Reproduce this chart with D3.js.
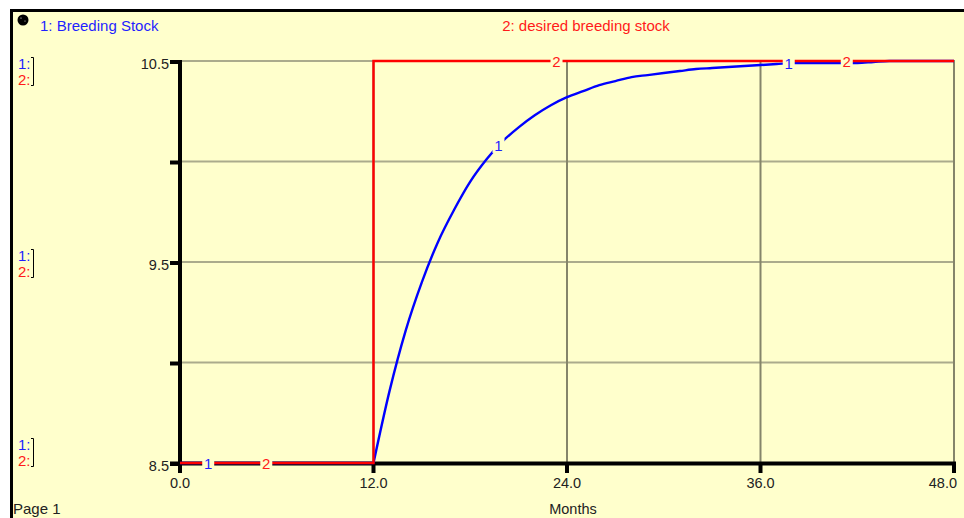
<!DOCTYPE html>
<html>
<head>
<meta charset="utf-8">
<script src="https://cdn.jsdelivr.net/npm/d3@7"></script>
<style>
  html, body { margin: 0; padding: 0; background: #ffffff; }
  svg { display: block; font-family: "Liberation Sans", Arial, sans-serif; }
</style>
</head>
<body>
<svg id="chart" width="964" height="518"></svg>
<script>
// ---- data ----
const months = [0,1,2,3,4,5,6,7,8,9,10,11,12,13,14,15,16,17,18,19,20,21,22,23,24,
  25,26,27,28,29,30,31,32,33,34,35,36,37,38,39,40,41,42,43,44,45,46,47,48];
const breedingStock = [8.5,8.5,8.5,8.5,8.5,8.5,8.5,8.5,8.5,8.5,8.5,8.5,8.5,
  8.86,9.16,9.40,9.60,9.76,9.90,10.01,10.10,10.17,10.23,10.28,10.32,
  10.35,10.38,10.40,10.42,10.43,10.44,10.45,10.46,10.465,10.47,10.475,10.48,
  10.485,10.49,10.49,10.49,10.49,10.49,10.495,10.5,10.5,10.5,10.5,10.5];
const desiredStock = [8.5,8.5,8.5,8.5,8.5,8.5,8.5,8.5,8.5,8.5,8.5,8.5,
  10.5,10.5,10.5,10.5,10.5,10.5,10.5,10.5,10.5,10.5,10.5,10.5,10.5,
  10.5,10.5,10.5,10.5,10.5,10.5,10.5,10.5,10.5,10.5,10.5,10.5,
  10.5,10.5,10.5,10.5,10.5,10.5,10.5,10.5,10.5,10.5,10.5,10.5];
const stepMonth = 12;
const xTicks = [0, 12, 24, 36, 48];
const xTickLabels = ["0.0", "12.0", "24.0", "36.0", "48.0"];
const yTicks = [8.5, 9.0, 9.5, 10.0, 10.5];
const yTickLabels = ["8.5", "", "9.5", "", "10.5"];
const seriesNames = ["1: Breeding Stock", "2: desired breeding stock"];
const labelTimes1 = [1.75, 19.75, 37.75];
const labelTimes2 = [5.35, 23.35, 41.35];
const xTitle = "Months";
const pageLabel = "Page 1";

// ---- setup ----
const BG = "#ffffcc";
const BLUE = "#0000ff";
const RED = "#ff0000";
const BLUE_T = "#1f1fff";
const RED_T = "#ff1a1a";
const svg = d3.select("#chart");

const x = d3.scaleLinear().domain([0, 48]).range([180, 954]);
const y = d3.scaleLinear().domain([8.5, 10.5]).range([463, 61]);

// frame
svg.append("rect").attr("x", 11.5).attr("y", 10.5).attr("width", 980).attr("height", 530)
  .attr("fill", BG).attr("stroke", "#000").attr("stroke-width", 3);

// gridlines
svg.append("g").selectAll("line").data(yTicks.filter(v => v > 8.5)).join("line")
  .attr("x1", x(0)).attr("x2", x(48)).attr("y1", d => y(d)).attr("y2", d => y(d))
  .attr("stroke", "#abab8c").attr("stroke-width", 2);
svg.append("g").selectAll("line").data(xTicks.filter(v => v > 0)).join("line")
  .attr("x1", d => x(d)).attr("x2", d => x(d)).attr("y1", y(10.5) - 1).attr("y2", y(8.5))
  .attr("stroke", "#85856a").attr("stroke-width", 2);

// axes (custom to mimic style)
const axes = svg.append("g");
axes.append("line").attr("x1", x(0)).attr("x2", x(0)).attr("y1", y(10.5) - 1).attr("y2", y(8.5) + 9)
  .attr("stroke", "#000").attr("stroke-width", 4);
axes.append("line").attr("x1", x(0) - 10).attr("x2", x(48) + 2).attr("y1", y(8.5) + 0.5).attr("y2", y(8.5) + 0.5)
  .attr("stroke", "#000").attr("stroke-width", 4);
axes.selectAll(".yt").data(yTicks).join("line")
  .attr("x1", x(0) - 10).attr("x2", x(0)).attr("y1", d => y(d) + 1).attr("y2", d => y(d) + 1)
  .attr("stroke", "#000").attr("stroke-width", 4);
axes.selectAll(".xt").data(xTicks).join("line")
  .attr("x1", d => x(d)).attr("x2", d => x(d)).attr("y1", y(8.5)).attr("y2", y(8.5) + 10)
  .attr("stroke", "#000").attr("stroke-width", 4);

// tick labels
svg.append("g").selectAll("text").data(yTicks).join("text")
  .attr("x", x(0) - 11).attr("y", d => y(d) + 7.5)
  .attr("text-anchor", "end").attr("font-size", 14.5).attr("fill", "#222")
  .text((d, i) => yTickLabels[i]);
svg.append("g").selectAll("text").data(xTicks).join("text")
  .attr("x", (d, i) => i === xTicks.length - 1 ? x(d) + 3 : x(d))
  .attr("y", 488)
  .attr("text-anchor", (d, i) => i === xTicks.length - 1 ? "end" : "middle")
  .attr("font-size", 14.5).attr("fill", "#222")
  .text((d, i) => xTickLabels[i]);

svg.append("text").attr("x", 573).attr("y", 514).attr("text-anchor", "middle")
  .attr("font-size", 14.5).attr("fill", "#222").text(xTitle);
svg.append("text").attr("x", 13).attr("y", 514)
  .attr("font-size", 15).attr("fill", "#222").text(pageLabel);

// series titles
const icon = svg.append("g").attr("transform", "translate(23,20)");
icon.append("circle").attr("r", 5.5).attr("fill", "#000");
icon.append("circle").attr("cx", -2).attr("cy", -2).attr("r", 0.6).attr("fill", "#fff");
icon.append("circle").attr("cx", 2).attr("cy", 1).attr("r", 0.5).attr("fill", "#fff");
svg.append("text").attr("x", 40).attr("y", 31).attr("font-size", 15).attr("fill", BLUE_T).text(seriesNames[0]);
svg.append("text").attr("x", 586).attr("y", 31).attr("text-anchor", "middle")
  .attr("font-size", 15).attr("fill", RED_T).text(seriesNames[1]);

// left scale indicators
[69, 261, 450].forEach(b => {
  const g = svg.append("g");
  g.append("text").attr("x", 18).attr("y", b).attr("font-size", 15).attr("fill", BLUE_T).text("1:");
  g.append("text").attr("x", 18).attr("y", b + 16).attr("font-size", 15).attr("fill", RED_T).text("2:");
  g.append("path").attr("d", `M31,${b - 11.5}H33.5V${b + 16.5}H31`)
    .attr("fill", "none").attr("stroke", "#000").attr("stroke-width", 1);
});

// series lines
const pts1 = months.map((m, i) => [m, breedingStock[i]]);
const pts2 = months.map((m, i) => [m, desiredStock[i]]);
const flat = pts1.filter(p => p[0] <= stepMonth);
const rise = pts1.filter(p => p[0] >= stepMonth);
const lineLin = d3.line().x(d => x(d[0])).y(d => y(d[1]));
const lineMono = d3.line().x(d => x(d[0])).y(d => y(d[1])).curve(d3.curveMonotoneX);
const lineStep = d3.line().x(d => x(d[0])).y(d => y(d[1])).curve(d3.curveStepAfter);

svg.append("path").attr("d", lineLin(flat)).attr("fill", "none").attr("stroke", BLUE).attr("stroke-width", 2.4);
svg.append("path").attr("d", lineMono(rise)).attr("fill", "none").attr("stroke", BLUE).attr("stroke-width", 2.4)
  .attr("stroke-linejoin", "round");
svg.append("path").attr("d", lineStep(pts2)).attr("fill", "none").attr("stroke", RED).attr("stroke-width", 2.4);

// on-line labels
function interp(series, t) {
  const i = Math.min(Math.floor(t), months.length - 2);
  const f = t - months[i];
  return series[i] + (series[i + 1] - series[i]) * f;
}
function addLabels(times, series, txt, color) {
  const g = svg.append("g");
  times.forEach(t => {
    const cx = x(t), cy = y(interp(series, t));
    g.append("rect").attr("x", cx - 6).attr("y", cy - 8).attr("width", 12).attr("height", 15).attr("fill", BG);
    g.append("text").attr("x", cx).attr("y", cy + 5.5).attr("text-anchor", "middle")
      .attr("font-size", 15).attr("fill", color).text(txt);
  });
}
addLabels(labelTimes1, breedingStock, "1", BLUE_T);
addLabels(labelTimes2, desiredStock, "2", RED_T);
</script>
</body>
</html>
